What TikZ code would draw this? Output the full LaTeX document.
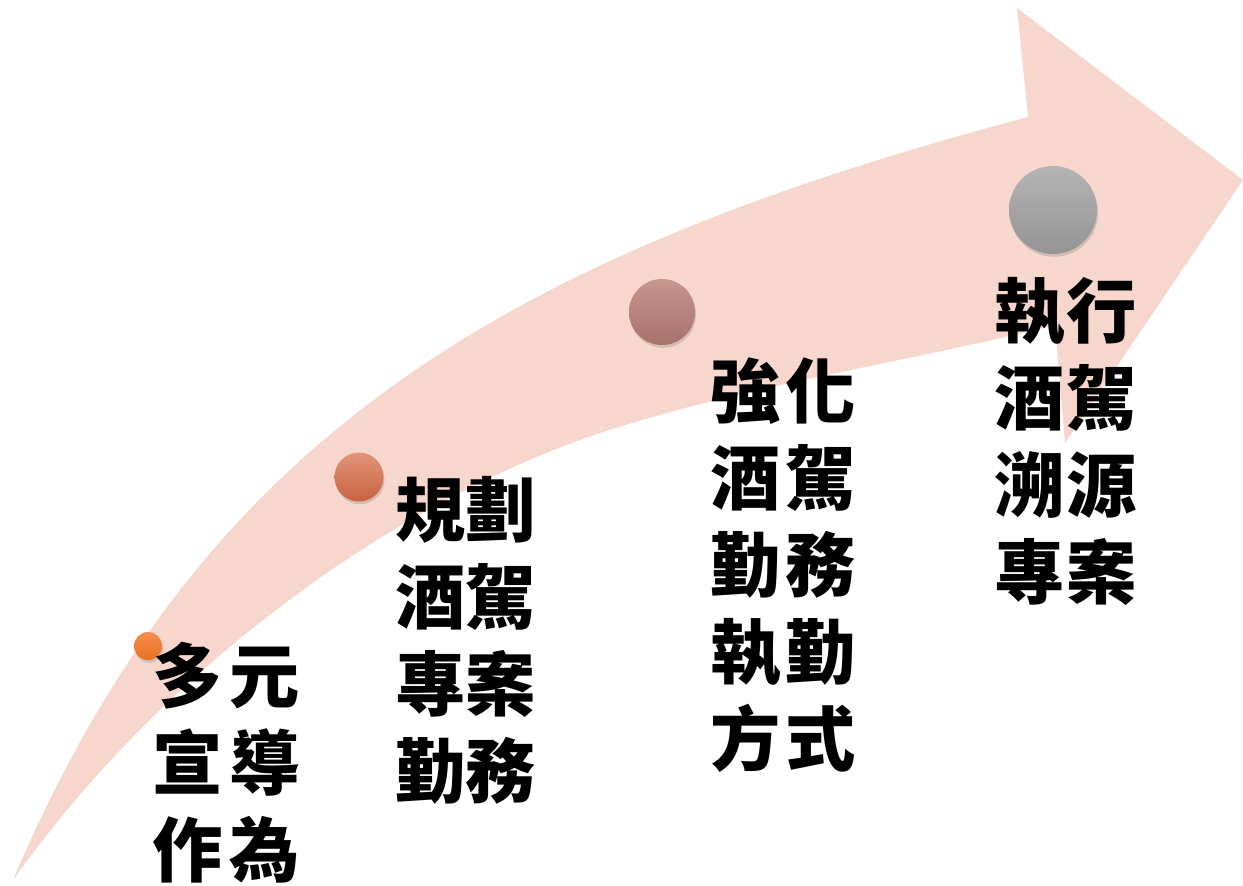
\documentclass[tikz,border=0pt]{standalone}
\usepackage{fontspec}
\usepackage{tikz}
\usetikzlibrary{shadows}
\newfontfamily\cjk{Noto Sans CJK TC}
\definecolor{arrowpink}{RGB}{247,215,205}

\begin{document}
\begin{tikzpicture}[x=0.02cm, y=-0.02cm]
    \tikzstyle{stagedot} = [circle, inner sep=0pt, drop shadow={shadow xshift=0.6pt, shadow yshift=-1.6pt, opacity=0.3}]
    \tikzstyle{stagetext} = [anchor=north west, inner sep=0pt, align=left, font=\cjk\bfseries\fontsize{40}{49.5}\selectfont]
    \useasboundingbox (0,0) rectangle (1243,885);
    % curved arrow
    \fill[arrowpink] (13,880) .. controls (200,440) and (500,257) .. (1028,117)
        -- (1017,8) -- (1243,180) -- (1065,443) -- (1055,325)
        .. controls (900,364) and (750,384) .. (600,433)
        .. controls (400,500) and (170,660) .. (13,880) -- cycle;
    % stages
    \node (dotA) [stagedot, minimum size=0.56cm, top color={rgb,255:red,245;green,142;blue,82}, bottom color={rgb,255:red,234;green,112;blue,30}] at (148,646) {};
    \node (dotB) [stagedot, minimum size=0.98cm, top color={rgb,255:red,226;green,148;blue,118}, bottom color={rgb,255:red,198;green,98;blue,66}] at (359,477) {};
    \node (dotC) [stagedot, minimum size=1.32cm, top color={rgb,255:red,198;green,150;blue,143}, bottom color={rgb,255:red,168;green,112;blue,106}] at (662,312) {};
    \node (dotD) [stagedot, minimum size=1.76cm, top color={rgb,255:red,180;green,180;blue,180}, bottom color={rgb,255:red,148;green,148;blue,148}] at (1053,210) {};
    \node (textA) [stagetext] at (152,642) {多\hspace{0.13cm}元\\宣\hspace{0.13cm}導\\作\hspace{0.13cm}為};
    \node (textB) [stagetext] at (395,476) {規劃\\酒駕\\專案\\勤務};
    \node (textC) [stagetext] at (710,357) {強\hspace{0.09cm}化\\酒\hspace{0.09cm}駕\\勤\hspace{0.09cm}務\\執\hspace{0.09cm}勤\\方\hspace{0.09cm}式};
    \node (textD) [stagetext] at (994,277) {執\hspace{0.03cm}行\\酒\hspace{0.03cm}駕\\溯\hspace{0.03cm}源\\專\hspace{0.03cm}案};
\end{tikzpicture}
\end{document}
